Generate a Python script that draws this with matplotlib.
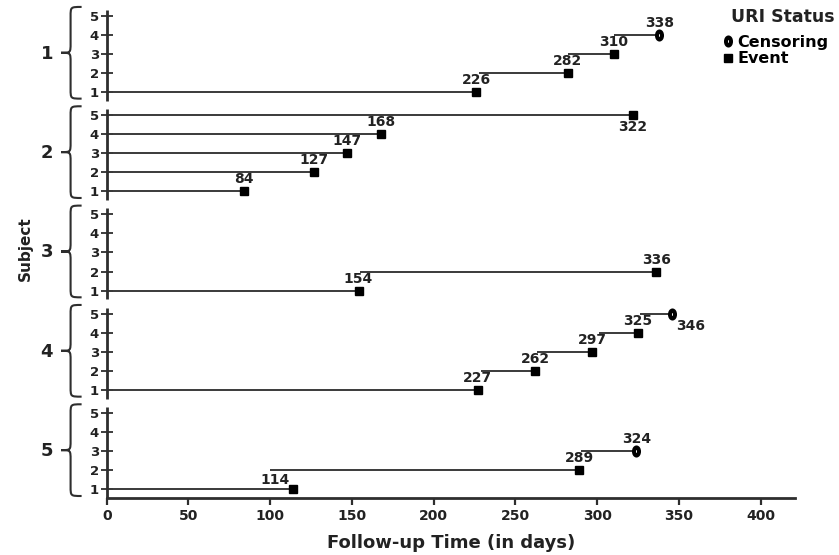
import matplotlib
matplotlib.use('Agg')
import matplotlib.pyplot as plt
import matplotlib.transforms as mtransforms
from matplotlib.path import Path
from matplotlib.patches import PathPatch
from matplotlib.lines import Line2D

# one row per episode (subject, episode number, start day, stop day, censored?)
subject = [1, 1, 1, 1, 2, 2, 2, 2, 2, 3, 3, 4, 4, 4, 4, 4, 5, 5, 5]
episode = [1, 2, 3, 4, 1, 2, 3, 4, 5, 1, 2, 1, 2, 3, 4, 5, 1, 2, 3]
start = [0, 228, 282, 310, 0, 0, 0, 0, 0, 0, 155, 0, 229, 263, 301, 326, 0, 100, 290]
stop = [226, 282, 310, 338, 84, 127, 147, 168, 322, 154, 336, 227, 262, 297, 325, 346, 114, 289, 324]
censored = [0, 0, 0, 1, 0, 0, 0, 0, 0, 0, 0, 0, 0, 0, 0, 1, 0, 0, 1]

subject_ids = [1, 2, 3, 4, 5]
episode_ticks = [1, 2, 3, 4, 5]
x_ticks = [0, 50, 100, 150, 200, 250, 300, 350, 400]

plt.rcParams['font.family'] = 'DejaVu Sans'
plt.rcParams['font.weight'] = 'bold'

INK = '#2e2e2e'
GROUP_STEP = 5.2


def ypos(s, e):
    return (5 - s) * GROUP_STEP + e


fig = plt.figure(figsize=(8.39, 5.55), dpi=100)
ax = fig.add_axes([0.1272, 0.1027, 0.8204, 0.8793])

ys = [ypos(s, e) for s, e in zip(subject, episode)]

# follow-up segments
ax.hlines(ys, start, stop, color='#3a3a3a', lw=1.4, zorder=2)

# end markers (filled square = event, dark oval with small hole = censoring)
circ = Path.unit_circle()
ellipse = Path(circ.vertices * [0.62, 1.0], circ.codes)
cens_style = dict(marker=ellipse, ms=5.8, mfc='white', mec='black', mew=2.9)
ev_x = [stop[i] for i in range(len(stop)) if not censored[i]]
ev_y = [ys[i] for i in range(len(stop)) if not censored[i]]
ce_x = [stop[i] for i in range(len(stop)) if censored[i]]
ce_y = [ys[i] for i in range(len(stop)) if censored[i]]
ax.plot(ev_x, ev_y, ls='none', marker='s', ms=6, color='black', zorder=3)
ax.plot(ce_x, ce_y, ls='none', zorder=3, **cens_style)

# value labels
label_offsets = {(2, 5): (0, -9), (4, 5): (13, -9), (5, 1): (-13, 7)}
for s, e, x, y in zip(subject, episode, stop, ys):
    off = label_offsets.get((s, e), (0, 8.5))
    ax.annotate(str(x), (x, y), xytext=off, textcoords='offset points',
                ha='center', va='center', fontsize=10, fontweight='bold', color='#222222')

# axes
ax.set_xlim(0, 421)
ax.set_ylim(0.545, 26.09)
ax.set_xticks(x_ticks)
ax.set_xticklabels([str(t) for t in x_ticks], fontsize=10, fontweight='bold', color='#222222')
ax.set_yticks([ypos(s, e) for s in subject_ids for e in episode_ticks])
ax.set_yticklabels([str(e) for s in subject_ids for e in episode_ticks],
                   fontsize=9.5, fontweight='bold', color='#222222')
ax.tick_params(axis='y', direction='inout', length=8, width=1.3, pad=1.5, color=INK)
ax.tick_params(axis='x', direction='out', length=5, width=1.6, pad=3, color=INK)
for side in ['top', 'right', 'left']:
    ax.spines[side].set_visible(False)
ax.spines['bottom'].set_linewidth(2)
ax.spines['bottom'].set_color(INK)

# one vertical axis piece per subject
trans = mtransforms.blended_transform_factory(ax.transAxes, ax.transData)
for s in subject_ids:
    ax.vlines(0, ypos(s, 1) - 0.45, ypos(s, 5) + 0.3, color=INK, lw=2, clip_on=False)

# curly braces + subject numbers
xt, xb, xe = -0.0664, -0.0525, -0.0365
r = 0.5
for s in subject_ids:
    ym = ypos(s, 3) + 0.05
    yt, ybot = ym + 2.4, ym - 2.4
    verts = [(xe, yt), (xb, yt), (xb, yt), (xb, yt - r),
             (xb, ym + r),
             (xb, ym), (xb, ym), (xt, ym),
             (xb, ym), (xb, ym), (xb, ym - r),
             (xb, ybot + r),
             (xb, ybot), (xb, ybot), (xe, ybot)]
    codes = [Path.MOVETO, Path.CURVE4, Path.CURVE4, Path.CURVE4,
             Path.LINETO,
             Path.CURVE4, Path.CURVE4, Path.CURVE4,
             Path.CURVE4, Path.CURVE4, Path.CURVE4,
             Path.LINETO,
             Path.CURVE4, Path.CURVE4, Path.CURVE4]
    ax.add_patch(PathPatch(Path(verts, codes), transform=trans, fill=False,
                           edgecolor=INK, lw=1.5, clip_on=False))
    ax.text(-0.087, ypos(s, 3), str(s), transform=trans, ha='center', va='center',
            fontsize=13, fontweight='bold', color='#222222')

ax.set_xlabel('Follow-up Time (in days)', fontsize=13, fontweight='bold', color='#222222')
ax.xaxis.label.set_va('center')
ax.xaxis.set_label_coords(0.5, -0.092)
ax.set_ylabel('Subject', fontsize=11, fontweight='bold', color='#222222')
ax.yaxis.set_label_coords(-0.108, 0.51)

# legend
fig.text(731 / 839, 1 - 17 / 555, 'URI Status', ha='left', va='center',
         fontsize=12.5, fontweight='bold', color='#222222')
handles = [Line2D([], [], ls='none', **cens_style),
           Line2D([], [], ls='none', marker='s', ms=6, color='black')]
ax.legend(handles, ['Censoring', 'Event'], loc='upper left',
          bbox_to_anchor=(723 / 839, 1 - 35 / 555), bbox_transform=fig.transFigure,
          frameon=False, borderpad=0, handlelength=0.6,
          handletextpad=0.3, labelspacing=0.08, borderaxespad=0,
          prop={'weight': 'bold', 'size': 11.5})

fig.savefig('out.png', dpi=100)
